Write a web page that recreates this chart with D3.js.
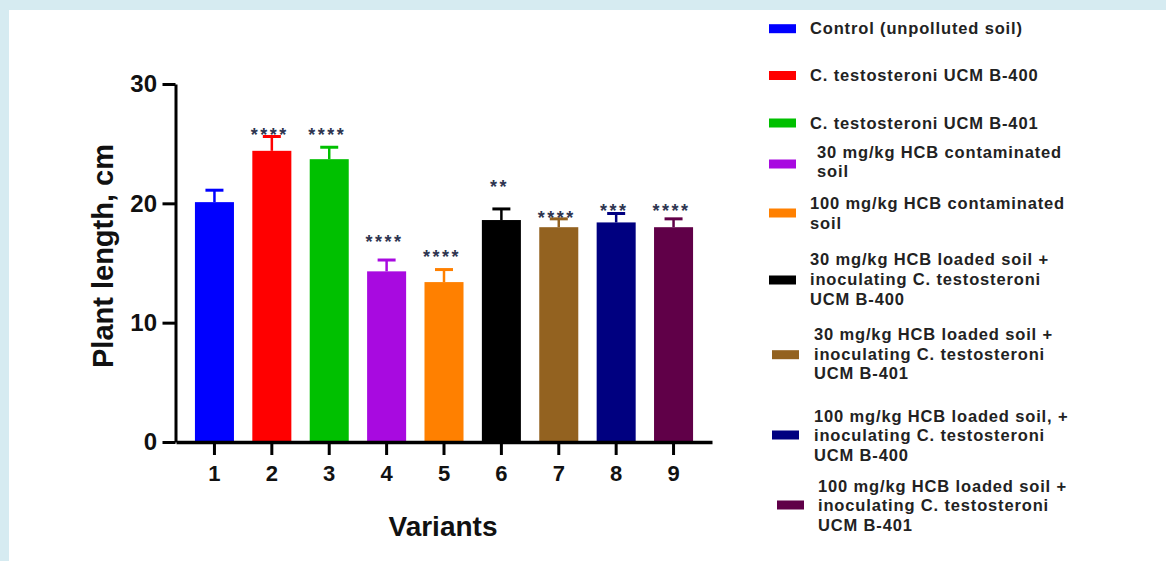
<!DOCTYPE html>
<html>
<head>
<meta charset="utf-8">
<script src="https://cdn.jsdelivr.net/npm/d3@7"></script>
<style>
  html, body { margin: 0; padding: 0; background: #d6ebf1; }
  svg { display: block; }
  text { font-family: "Liberation Sans", Arial, sans-serif; }
</style>
</head>
<body>
<svg id="chart" width="1166" height="561"></svg>
<script>
// ---------- data ----------
const categories = ["1", "2", "3", "4", "5", "6", "7", "8", "9"];
const means = [20.1, 24.4, 23.7, 14.3, 13.4, 18.6, 18.0, 18.4, 18.0];
const errors = [1.0, 1.2, 1.0, 0.95, 1.05, 0.93, 0.7, 0.75, 0.7];
const stars = ["", "****", "****", "****", "****", "**", "****", "***", "****"];
const starLevels = [null, 26.07, 26.07, 17.1, 15.84, 21.7, 19.1, 19.7, 19.7];
const yTicks = [0, 10, 20, 30];
const colors = ["#0000ff", "#ff0000", "#00c000", "#a80ae0", "#ff8000", "#000000", "#936220", "#000080", "#600048"];
const legendLabels = [
  ["Control (unpolluted soil)"],
  ["C. testosteroni UCM B-400"],
  ["C. testosteroni UCM B-401"],
  ["30 mg/kg HCB contaminated", "soil"],
  ["100 mg/kg HCB contaminated", "soil"],
  ["30 mg/kg HCB loaded soil +", "inoculating C. testosteroni", "UCM B-400"],
  ["30 mg/kg HCB loaded soil +", "inoculating C. testosteroni", "UCM B-401"],
  ["100 mg/kg HCB loaded soil, +", "inoculating C. testosteroni", "UCM B-400"],
  ["100 mg/kg HCB loaded soil +", "inoculating C. testosteroni", "UCM B-401"]
];
const yTitle = "Plant length, cm";
const xTitle = "Variants";

// ---------- layout (positions only) ----------
const legendTextX = [810, 810, 810, 817, 810, 810, 814, 814, 818];
const legendSwatchX = [769, 769, 769, 769, 769, 769, 772, 772, 777];
const legendFirstLineY = [28, 75, 122.7, 151.7, 203.3, 259.3, 334, 415.7, 485.7];
const legendSwatchY = [28.7, 75.5, 123, 164, 213, 280, 354.7, 435, 505];

const svg = d3.select("#chart");

// white panel with light blue border on top & left
svg.append("rect").attr("x", 9).attr("y", 10).attr("width", 1166 - 9).attr("height", 561 - 10).attr("fill", "#ffffff");

const x = d3.scaleBand().domain(categories).range([176, 712]).paddingInner(0.32).paddingOuter(0.33);
const y = d3.scaleLinear().domain([0, 30]).range([442, 84]);

// bars
svg.append("g").selectAll("rect").data(categories).join("rect")
  .attr("x", d => x(d))
  .attr("width", x.bandwidth())
  .attr("y", (d, i) => y(means[i]))
  .attr("height", (d, i) => y(0) - y(means[i]))
  .attr("fill", (d, i) => colors[i]);

// error bars
const eg = svg.append("g");
categories.forEach((c, i) => {
  const cx = x(c) + x.bandwidth() / 2;
  eg.append("line").attr("x1", cx).attr("x2", cx)
    .attr("y1", y(means[i])).attr("y2", y(means[i] + errors[i]))
    .attr("stroke", colors[i]).attr("stroke-width", 2.5);
  eg.append("line").attr("x1", cx - 9).attr("x2", cx + 9)
    .attr("y1", y(means[i] + errors[i])).attr("y2", y(means[i] + errors[i]))
    .attr("stroke", colors[i]).attr("stroke-width", 3);
});

// significance stars
svg.append("g").selectAll("text").data(categories).join("text")
  .attr("x", d => x(d) + x.bandwidth() / 2 - 2)
  .attr("y", (d, i) => starLevels[i] == null ? 0 : y(starLevels[i]) + 10)
  .attr("text-anchor", "middle")
  .attr("font-size", 18)
  .attr("font-weight", "bold")
  .attr("letter-spacing", 2.5)
  .attr("fill", "#2e3550")
  .text((d, i) => stars[i]);

// y axis
const yAxis = svg.append("g").attr("transform", "translate(175.5,0)")
  .call(d3.axisLeft(y).tickValues(yTicks).tickSize(13).tickSizeOuter(0).tickPadding(5.5));
yAxis.selectAll("path, line").attr("stroke", "#000").attr("stroke-width", 3);
yAxis.selectAll("text").attr("font-size", 24).attr("font-weight", "bold").attr("fill", "#111")
  .attr("font-family", "'Liberation Sans', Arial, sans-serif");

// x axis
const xAxis = svg.append("g").attr("transform", "translate(0,442)")
  .call(d3.axisBottom(x).tickSize(13).tickSizeOuter(0).tickPadding(10));
xAxis.select(".domain").attr("stroke", "#000").attr("stroke-width", 3.5);
xAxis.selectAll("line").attr("stroke", "#000").attr("stroke-width", 3);
xAxis.selectAll("text").attr("font-size", 22).attr("font-weight", "bold").attr("fill", "#111")
  .attr("font-family", "'Liberation Sans', Arial, sans-serif");

// axis titles
svg.append("text").attr("transform", "translate(113,256) rotate(-90)")
  .attr("text-anchor", "middle").attr("font-size", 29).attr("font-weight", "bold").attr("fill", "#111")
  .text(yTitle);
svg.append("text").attr("x", 443).attr("y", 536)
  .attr("text-anchor", "middle").attr("font-size", 28).attr("font-weight", "bold").attr("fill", "#111")
  .text(xTitle);

// legend
const lg = svg.append("g");
legendLabels.forEach((lines, i) => {
  lg.append("rect").attr("x", legendSwatchX[i]).attr("y", legendSwatchY[i] - 4.5)
    .attr("width", 27).attr("height", 9).attr("fill", colors[i]);
  const t = lg.append("text").attr("font-size", 16.5).attr("font-weight", "bold")
    .attr("letter-spacing", 0.85).attr("fill", "#222");
  lines.forEach((ln, j) => {
    t.append("tspan").attr("x", legendTextX[i]).attr("y", legendFirstLineY[i] + j * 19.6 + 6).text(ln);
  });
});
</script>
</body>
</html>
